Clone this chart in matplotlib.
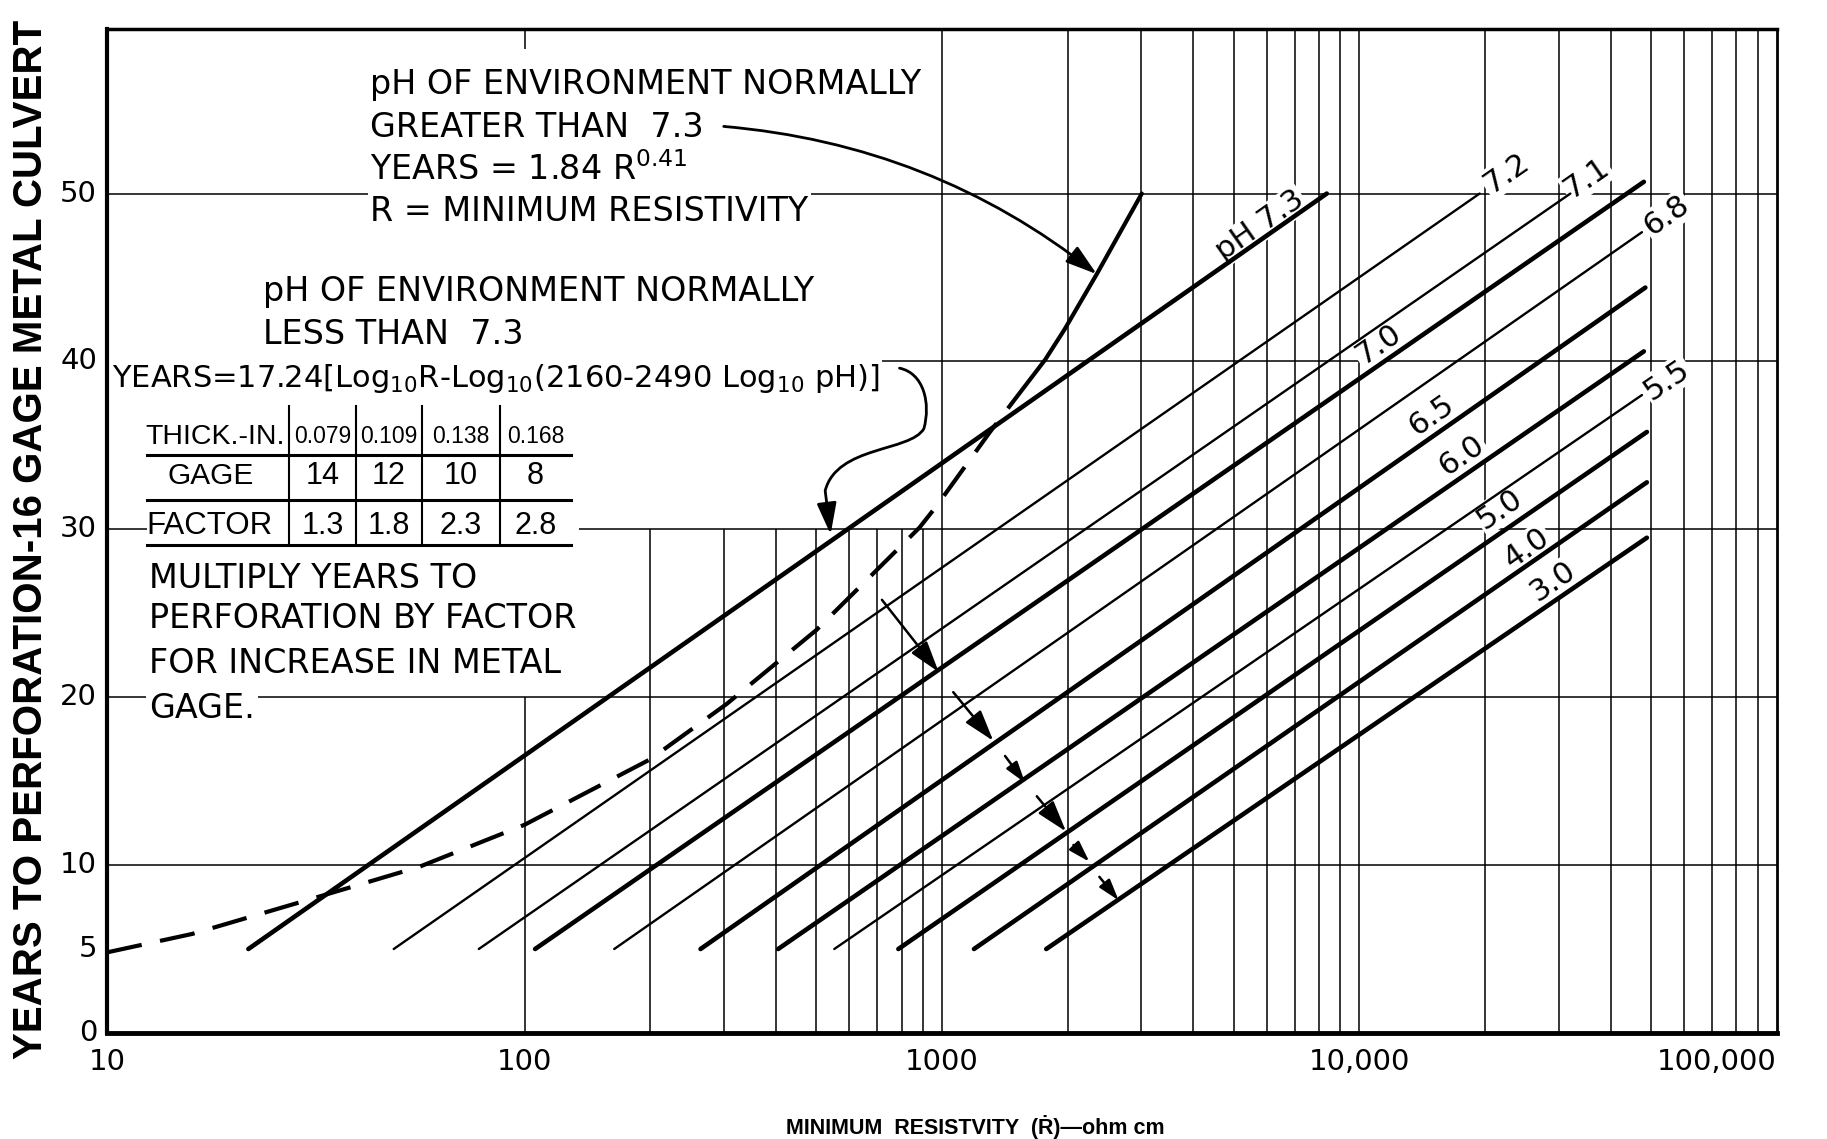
import math
import matplotlib
matplotlib.use('Agg')
import matplotlib.pyplot as plt
from matplotlib.patches import FancyArrowPatch, Rectangle
from matplotlib.path import Path
from matplotlib.ticker import NullLocator

# pH lines: each starts at 5 years and runs up to the right
ph_labels = ['pH 7.3', '7.2', '7.1', '7.0', '6.8', '6.5', '6.0', '5.5', '5.0', '4.0', '3.0']
r_start = [21.8, 48.6, 77.7, 106, 164, 264, 405, 552, 786, 1193, 1777]
yr_start = [5, 5, 5, 5, 5, 5, 5, 5, 5, 5, 5]
r_end = [8350, 19400, 32000, 48000, 47500, 48400, 48000, 47500, 48800, 48800, 48800]
yr_end = [50, 50, 50, 50.7, 47.7, 44.4, 40.6, 38.0, 35.8, 32.8, 29.5]
heavy = [True, False, False, True, False, True, True, False, True, True, True]
label_r = [5780, 22500, 35000, 11100, 54500, 14900, 17600, 54500, 21700, 25200, 29100]
label_yr = [48.1, 51.2, 50.9, 41.0, 48.7, 36.8, 34.4, 38.9, 31.2, 28.9, 26.9]

# pH > 7.3 curve, dashed part then solid part
alk_r_dash = [10, 16, 31, 56, 100, 200, 305, 500, 883, 971, 1303, 1469]
alk_yr_dash = [4.8, 5.9, 8.0, 9.9, 12.4, 16.3, 19.6, 24.0, 30.1, 31.4, 35.8, 37.5]
alk_r_solid = [1469, 1766, 1965, 2348, 3010]
alk_yr_solid = [37.5, 40.1, 41.9, 45.2, 50.0]

# gage table
thick_in = ['0.079', '0.109', '0.138', '0.168']
gage = ['14', '12', '10', '8']
factor = ['1.3', '1.8', '2.3', '2.8']

x_ticks = [10, 100, 1000, 10000, 100000]
x_ticklabels = ['10', '100', '1000', '10,000', '100,000']
y_ticks = [0, 5, 10, 20, 30, 40, 50]

# log paper rulings
grid_years = [10, 20, 30, 40, 50]
grid_r_full = [1000, 2000, 3000, 4000, 5000, 6000, 7000, 8000, 9000,
               10000, 20000, 30000, 40000, 50000, 60000, 70000, 80000, 90000]
grid_r_low = [200, 300, 400, 500, 600, 700, 800, 900]
grid_r_100 = [100]

# small pointer arrows (tail, head) in (R, years)
pointers = [((718, 25.8), (982, 21.5), True),
            ((1064, 20.3), (1327, 17.4), True),
            ((1416, 16.5), (1581, 14.9), False),
            ((1687, 14.1), (1982, 12.0), True),
            ((2065, 11.2), (2254, 10.2), False),
            ((2382, 9.3), (2649, 7.9), False)]

NARROW = 'Liberation Sans'

fig = plt.figure(figsize=(18.27, 11.39), dpi=100)
ax = fig.add_axes([0.0586, 0.0931, 0.914, 0.8814])
ax.set_xscale('log')
ax.set_xlim(10, 100000)
ax.set_ylim(0, 59.8)
ax.set_xticks([])
ax.set_yticks([])
ax.xaxis.set_minor_locator(NullLocator())
ax.yaxis.set_minor_locator(NullLocator())
for side, w in [('bottom', 3.5), ('left', 3), ('top', 2.5), ('right', 2)]:
    ax.spines[side].set_linewidth(w)

grid_kw = dict(color='black', lw=1.1, zorder=1)
ax.hlines(grid_years, 10, 100000, **grid_kw)
ax.vlines(grid_r_full, 0, 59.8, **grid_kw)
ax.vlines(grid_r_low, 0, 30, **grid_kw)
ax.vlines(grid_r_100, 0, 20, **grid_kw)
ax.vlines(grid_r_100, 58.6, 59.8, **grid_kw)

# pH lines + labels
for i in range(len(ph_labels)):
    ax.plot([r_start[i], r_end[i]], [yr_start[i], yr_end[i]], color='black',
            lw=3.3 if heavy[i] else 1.7, solid_capstyle='round', zorder=3)
    p0 = ax.transData.transform((r_start[i], yr_start[i]))
    p1 = ax.transData.transform((r_end[i], yr_end[i]))
    ang = math.degrees(math.atan2(p1[1] - p0[1], p1[0] - p0[0]))
    ax.text(label_r[i], label_yr[i], ph_labels[i], rotation=ang, rotation_mode='anchor',
            ha='center', va='center', fontsize=22, zorder=2,
            bbox=dict(fc='white', ec='none', pad=1))

ax.plot(alk_r_dash, alk_yr_dash, color='black', lw=3, dashes=(8.5, 4.5), zorder=3)
ax.plot(alk_r_solid, alk_yr_solid, color='black', lw=3, solid_capstyle='round', zorder=3)

# tick labels
for t, s in zip(x_ticks, x_ticklabels):
    ax.text(t, -0.029, s, transform=ax.get_xaxis_transform(), fontsize=21,
            ha='right' if t == x_ticks[-1] else 'center', va='center')
for t in y_ticks:
    ax.text(-0.006, t, str(t), transform=ax.get_yaxis_transform(), fontsize=21,
            ha='right', va='center')

# notes
box = dict(fc='white', ec='none', pad=2)
tk = dict(fontsize=24, ha='left', va='center', transform=ax.transAxes, zorder=2, bbox=box)
for fy, s in zip([0.9445, 0.9017, 0.8600, 0.8184],
                 ['pH OF ENVIRONMENT NORMALLY', 'GREATER THAN  7.3',
                  'YEARS = 1.84 R$^{0.41}$', 'R = MINIMUM RESISTIVITY']):
    ax.text(0.1577, fy, s, **tk)
ax.text(0.0935, 0.7386, 'pH OF ENVIRONMENT NORMALLY', **tk)
ax.text(0.0935, 0.6957, 'LESS THAN  7.3', **tk)
ax.text(0.0028, 0.6518,
        'YEARS=17.24[Log$_{10}$R-Log$_{10}$(2160-2490 Log$_{10}$ pH)]',
        **dict(tk, fontsize=22))
for fy, s in zip([0.4529, 0.4124, 0.3685, 0.3233],
                 ['MULTIPLY YEARS TO', 'PERFORATION BY FACTOR',
                  'FOR INCREASE IN METAL', 'GAGE.']):
    ax.text(0.0251, fy, s, **tk)

# gage table
ax.add_patch(Rectangle((0.0237, 0.48), 0.2589, 0.15, transform=ax.transAxes,
                       fc='white', ec='none', zorder=1.5))
for fy in [0.5762, 0.5305, 0.4857]:
    ax.plot([0.0237, 0.2777], [fy, fy], transform=ax.transAxes, color='black', lw=2.2, zorder=2)
for fx in [0.1089, 0.1491, 0.1884, 0.2352]:
    ax.plot([fx, fx], [0.4857, 0.6241], transform=ax.transAxes, color='black', lw=1.5, zorder=2)
tab = dict(transform=ax.transAxes, va='center', family=NARROW, zorder=2)
ax.text(0.023, 0.594, 'THICK.-IN.', ha='left', fontsize=20.5, **tab)
ax.text(0.0619, 0.5547, 'GAGE', ha='center', fontsize=21.5, **tab)
ax.text(0.0237, 0.505, 'FACTOR', ha='left', fontsize=22.5, **tab)
for fx, a, b, c in zip([0.129, 0.1687, 0.2118, 0.2565], thick_in, gage, factor):
    ax.text(fx, 0.594, a, ha='center', fontsize=16.5, **tab)
    ax.text(fx, 0.5547, b, ha='center', fontsize=22, **tab)
    ax.text(fx, 0.505, c, ha='center', fontsize=22, **tab)

# arrows
head = '-|>,head_length=0.8,head_width=0.25'
ax.annotate('', xy=(2348, 45.2), xytext=(300, 54.0),
            arrowprops=dict(arrowstyle=head, connectionstyle='arc3,rad=-0.15', lw=2,
                            color='black', shrinkA=0, shrinkB=0, mutation_scale=24),
            zorder=4)
verts = [(791, 39.6), (905, 39.3), (940, 37.5), (905, 36.0),
         (840, 34.6), (560, 35.0), (525, 32.3), (541, 29.7)]
codes = [Path.MOVETO, Path.CURVE4, Path.CURVE4, Path.CURVE4,
         Path.CURVE4, Path.CURVE4, Path.CURVE4, Path.LINETO]
ax.add_patch(FancyArrowPatch(path=Path(verts, codes), arrowstyle=head, mutation_scale=24,
                             lw=2, color='black', zorder=4))
for (r0, y0), (r1, y1), big in pointers:
    ax.annotate('', xy=(r1, y1), xytext=(r0, y0),
                arrowprops=dict(arrowstyle=head, lw=1.8, color='black', shrinkA=0, shrinkB=0,
                                mutation_scale=24 if big else 16), zorder=4)

fig.text(0.017, 0.5268, 'YEARS TO PERFORATION-16 GAGE METAL CULVERT', rotation=90,
         ha='center', va='center', fontsize=29, fontweight='bold', family=NARROW)
fig.text(0.534, 0.0105, 'MINIMUM  RESISTVITY  (Ṙ)—ohm cm', ha='center', va='center',
         fontsize=15.5, fontweight='bold', family=NARROW)

fig.savefig('out.png', dpi=100)
